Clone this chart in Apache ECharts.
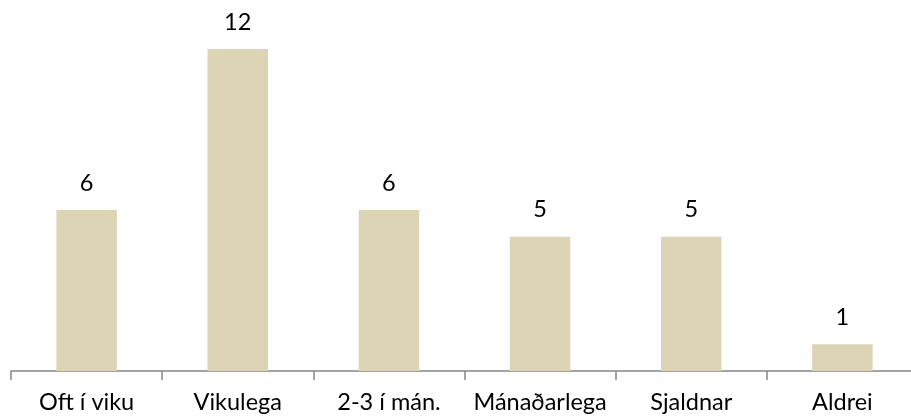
<!DOCTYPE html>
<html><head><meta charset="utf-8">
<script src="https://cdn.jsdelivr.net/npm/echarts@6/dist/echarts.min.js"></script>
<style>html,body{margin:0;padding:0;background:#fff;overflow:hidden}#c{width:918px;height:419px}</style>
</head><body><div id="c"></div>
<script>
const categories = ["Oft í viku", "Vikulega", "2-3 í mán.", "Mánaðarlega", "Sjaldnar", "Aldrei"];
const values = [6, 12, 6, 5, 5, 1];
const chart = echarts.init(document.getElementById('c'));
chart.setOption({
  animation: false,
  grid: { left: 11, right: 0, top: 49, bottom: 48, containLabel: false },
  xAxis: {
    type: 'category', data: categories,
    axisLine: { lineStyle: { color: '#868686', width: 1.5 } },
    axisTick: { show: true, length: 9, lineStyle: { color: '#868686', width: 1.5 } },
    axisLabel: { color: '#000', fontFamily: 'Lato', fontSize: 23.5, margin: 19, interval: 0 }
  },
  yAxis: { type: 'value', min: 0, max: 12, show: false, splitLine: { show: false } },
  series: [{
    type: 'bar', data: values, barWidth: '40%',
    itemStyle: { color: '#ddd4b6' },
    label: { show: true, position: 'top', distance: 15, color: '#000', fontFamily: 'Lato', fontSize: 23.5 }
  }]
});
</script></body></html>
